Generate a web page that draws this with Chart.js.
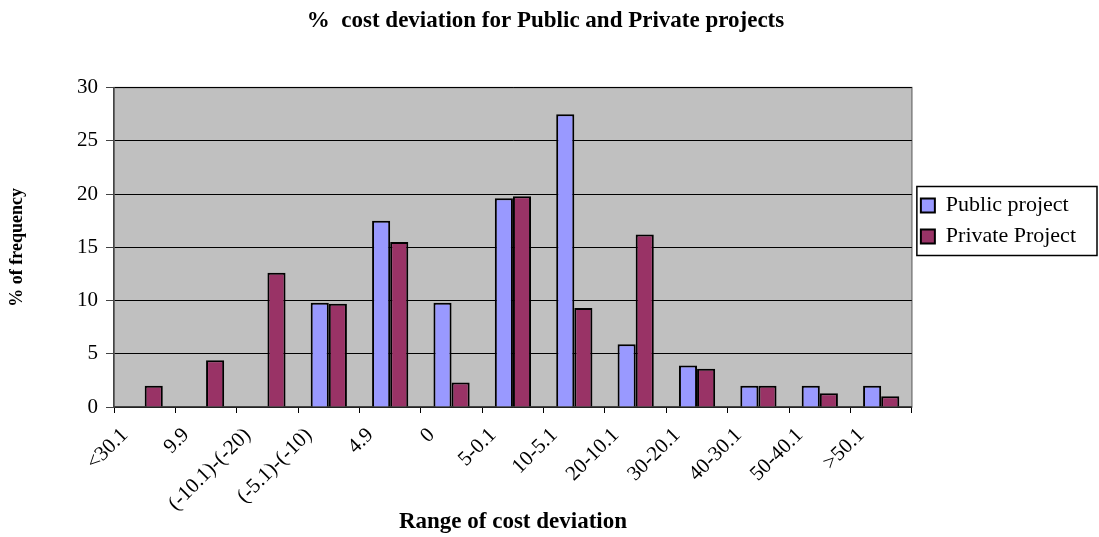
<!DOCTYPE html>
<html lang="en">
<head>
  <meta charset="UTF-8">
  <title>% cost deviation for Public and Private projects</title>
  <script src="https://cdn.jsdelivr.net/npm/chart.js"></script>
  <style>
    html, body { margin: 0; padding: 0; background: #fff; }
    #wrap { width: 1099px; height: 537px; }
  </style>
</head>
<body>
<div id="wrap"><canvas id="chart" width="1099" height="537"></canvas></div>

<script>
const categories = ['<30.1', '9.9', '(-10.1)-(-20)', '(-5.1)-(-10)', '4.9', '0', '5-0.1',
                    '10-5.1', '20-10.1', '30-20.1', '40-30.1', '50-40.1', '>50.1'];
const publicValues  = [0, 0, 0, 9.8, 17.5, 9.8, 19.6, 27.5, 5.9, 3.9, 2, 2, 2];
const privateValues = [2, 4.4, 12.6, 9.7, 15.5, 2.3, 19.8, 9.3, 16.2, 3.6, 2, 1.3, 1.0];
const yTicks = [0, 5, 10, 15, 20, 25, 30];

const serif = '"Liberation Serif", "Times New Roman", serif';

// grey plot area with a thin frame, like the old Excel charts
const plotBg = {
  id: 'plotBg',
  beforeDraw(chart) {
    const { ctx, chartArea: a } = chart;
    ctx.save();
    ctx.fillStyle = '#c0c0c0';
    ctx.fillRect(a.left, a.top, a.right - a.left, a.bottom - a.top);
    ctx.strokeStyle = '#808080';
    ctx.lineWidth = 1.5;
    ctx.strokeRect(a.left, a.top, a.right - a.left, a.bottom - a.top);
    ctx.restore();
  }
};

// move the legend up a bit and put a box round it
const legendBox = {
  id: 'legendBox',
  afterLayout(chart) {
    const lg = chart.legend;
    const h = lg.bottom - lg.top;
    const mid = 221;
    lg.top = mid - h / 2;
    lg.bottom = mid + h / 2;
  },
  afterDraw(chart) {
    const lg = chart.legend;
    const hb = lg.legendHitBoxes;
    if (!hb || !hb.length) return;
    const top = Math.min(...hb.map(b => b.top)) - 8;
    const bottom = Math.max(...hb.map(b => b.top + b.height)) + 8;
    const left = chart.chartArea.right + 5;
    const ctx = chart.ctx;
    ctx.save();
    ctx.strokeStyle = '#000';
    ctx.lineWidth = 1.5;
    ctx.strokeRect(left, top, chart.width - 2 - left, bottom - top);
    ctx.restore();
  }
};

// no outline on empty bars
const barBorder = c => (c.raw ? 2 : 0);

new Chart(document.getElementById('chart'), {
  type: 'bar',
  data: {
    labels: categories,
    datasets: [
      { label: 'Public project', data: publicValues, backgroundColor: '#9999ff',
        borderColor: '#000', borderWidth: barBorder },
      { label: 'Private Project', data: privateValues, backgroundColor: '#993366',
        borderColor: '#000', borderWidth: barBorder }
    ]
  },
  options: {
    responsive: false,
    animation: false,
    layout: { padding: { left: 5, right: 13, top: 0, bottom: 0 } },
    datasets: { bar: { categoryPercentage: 0.59, barPercentage: 1.0 } },
    plugins: {
      title: {
        display: true,
        text: '%  cost deviation for Public and Private projects',
        color: '#000',
        font: { family: serif, size: 23, weight: 'bold' },
        padding: { top: 7, bottom: 53 }
      },
      legend: {
        position: 'right',
        fullSize: false,
        labels: {
          color: '#000',
          font: { family: serif, size: 22 },
          boxWidth: 14,
          boxHeight: 14,
          padding: 9,
          generateLabels(chart) {
            return chart.data.datasets.map((ds, i) => ({
              text: ds.label,
              fillStyle: ds.backgroundColor,
              strokeStyle: '#000',
              lineWidth: 2,
              hidden: !chart.isDatasetVisible(i),
              datasetIndex: i,
              fontColor: '#000'
            }));
          }
        }
      },
      tooltip: { enabled: false }
    },
    scales: {
      x: {
        afterFit(s) { s.height = 130; },
        grid: { offset: true, drawOnChartArea: false, drawTicks: true, tickLength: 6, color: '#000' },
        border: { color: '#444', width: 1.5 },
        ticks: {
          color: '#000',
          font: { family: serif, size: 21 },
          maxRotation: 45,
          minRotation: 45,
          autoSkip: false,
          labelOffset: -20,
          padding: 10
        },
        title: {
          display: true,
          text: 'Range of cost deviation',
          color: '#000',
          font: { family: serif, size: 23, weight: 'bold' },
          padding: { top: 4, bottom: 1 }
        }
      },
      y: {
        min: 0,
        max: 30,
        afterFit(s) { s.width = 109; },
        afterBuildTicks(s) { s.ticks = yTicks.map(v => ({ value: v })); },
        grid: { color: '#000', lineWidth: 1, tickLength: 8, tickColor: '#444' },
        border: { color: '#444', width: 1.5 },
        ticks: {
          color: '#000',
          font: { family: serif, size: 21 },
          padding: 8
        },
        title: {
          display: true,
          text: '% of frequency',
          color: '#000',
          font: { family: serif, size: 18, weight: 'bold' },
          padding: { top: 2, bottom: 0 }
        }
      }
    }
  },
  plugins: [plotBg, legendBox]
});
</script>
</body>
</html>
